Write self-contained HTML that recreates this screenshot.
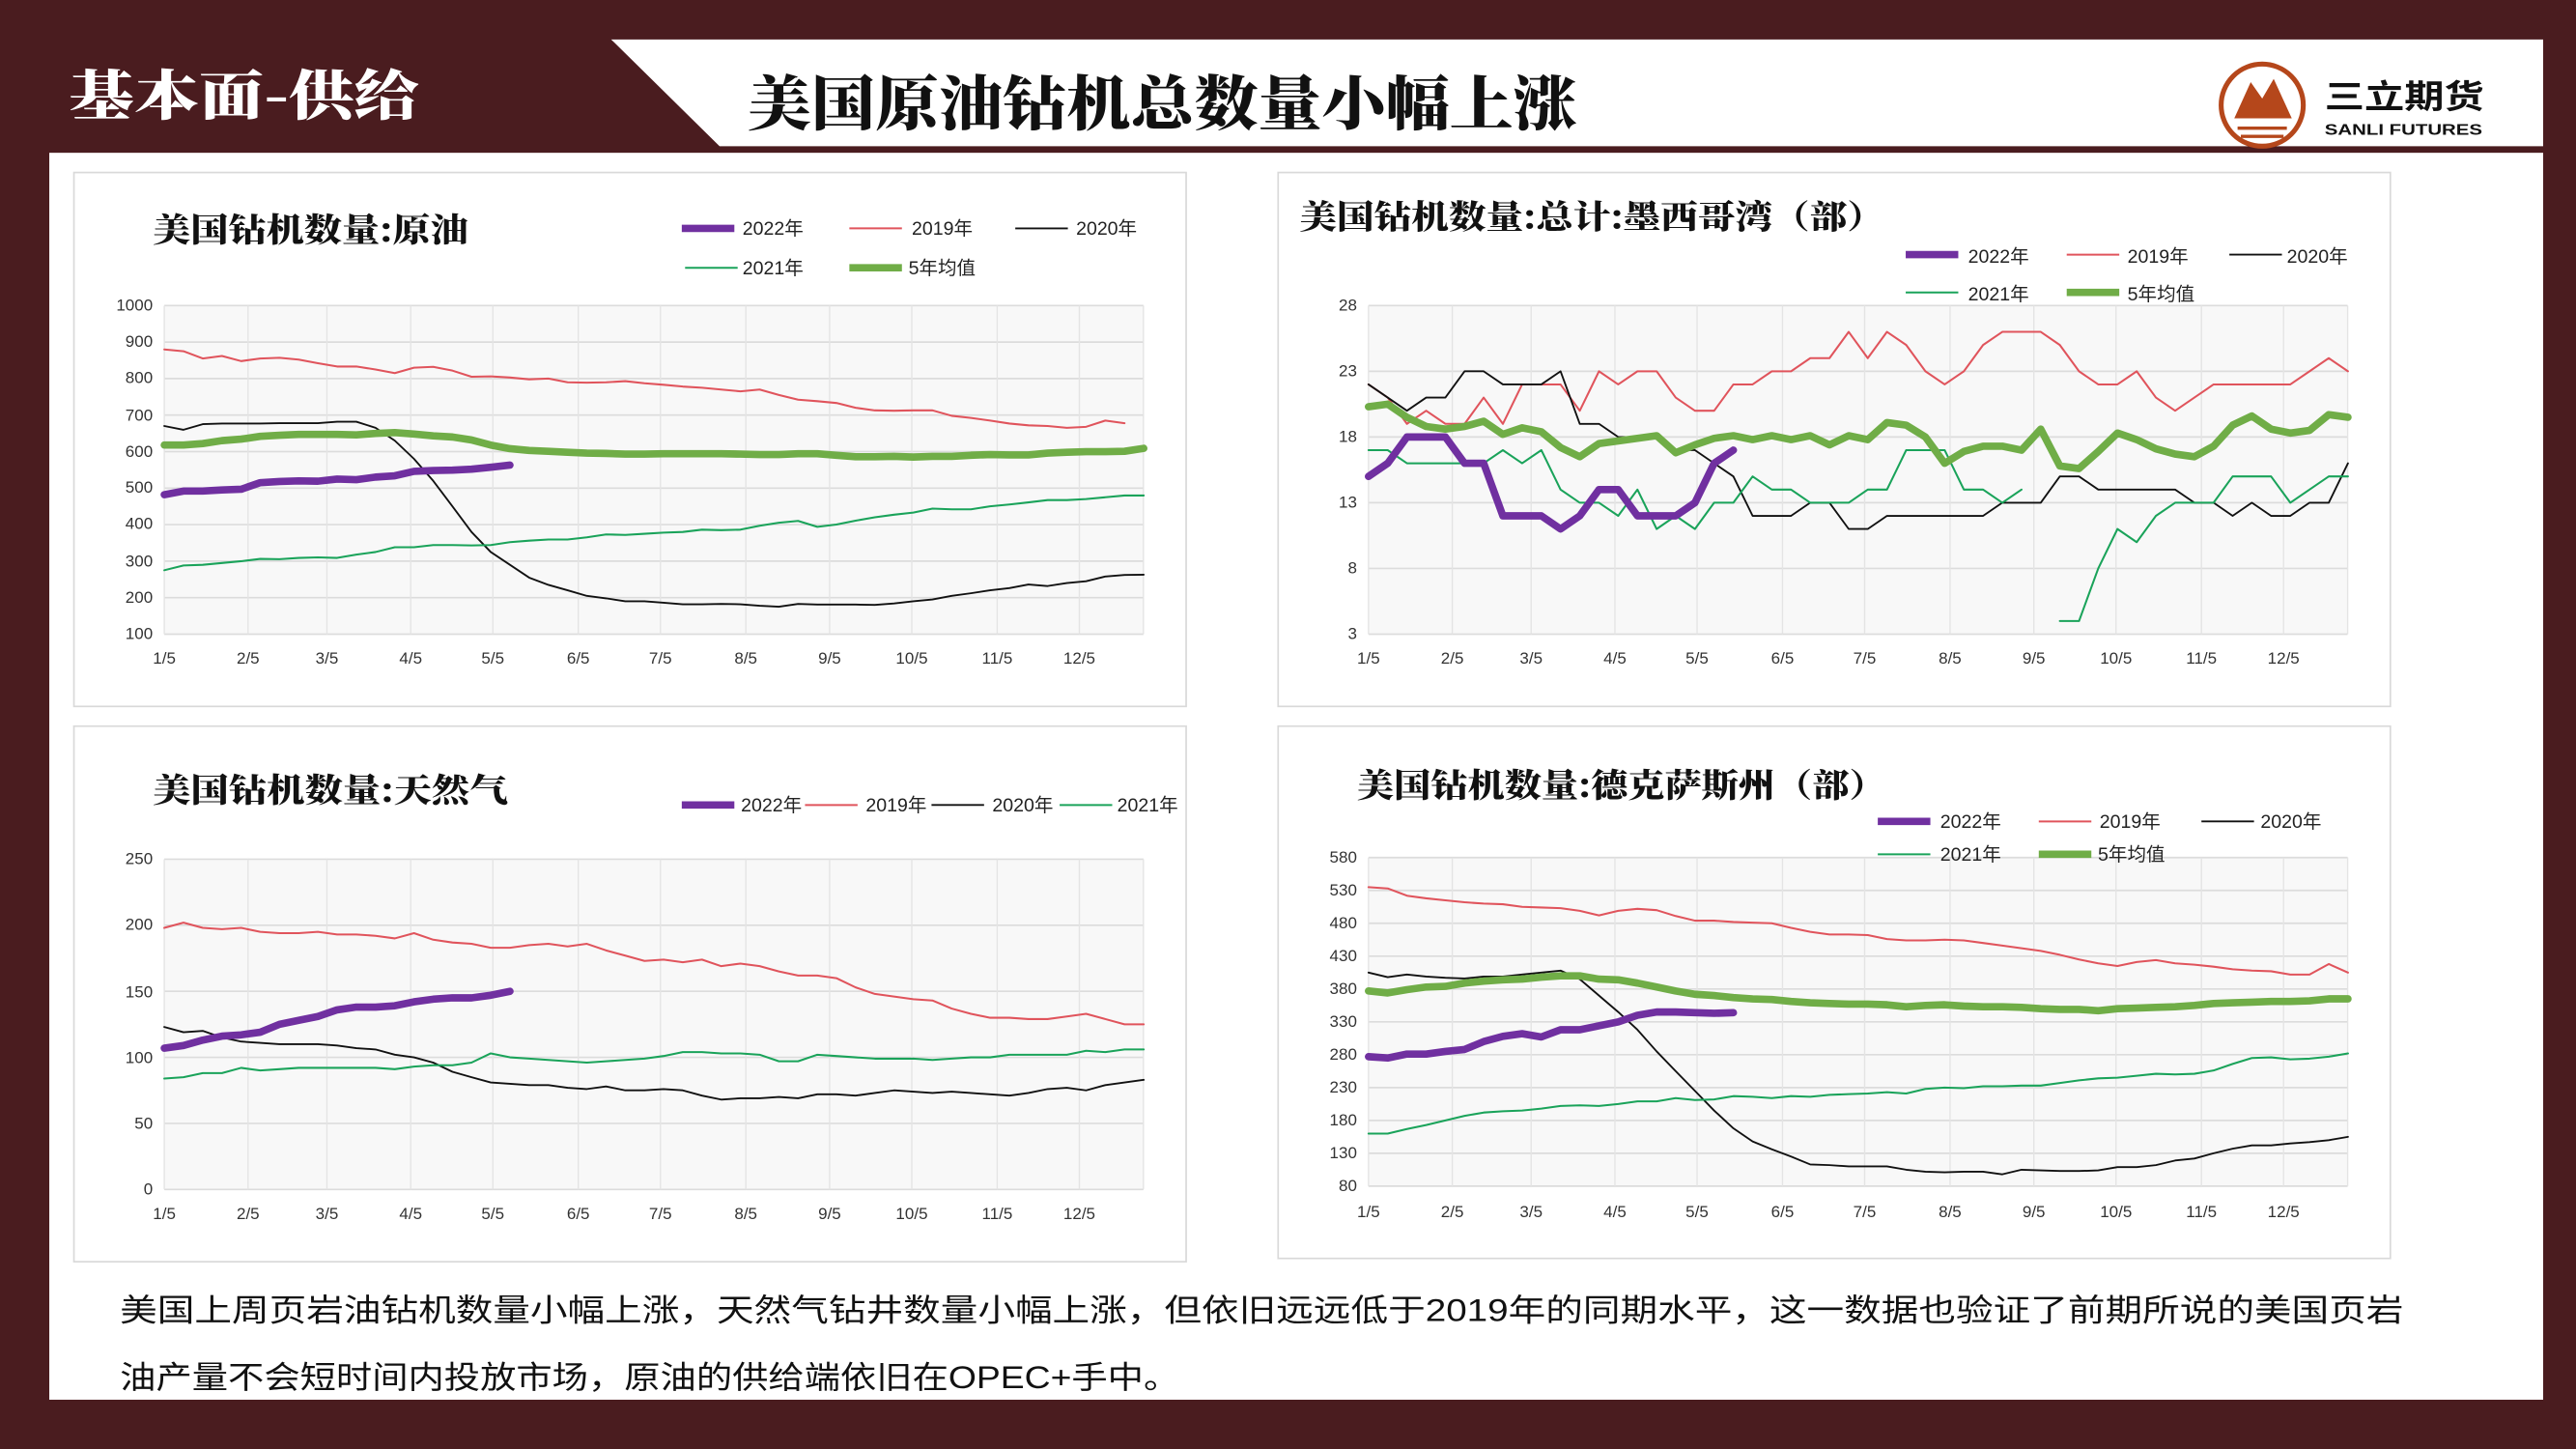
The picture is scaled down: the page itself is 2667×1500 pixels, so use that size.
<!DOCTYPE html>
<html><head><meta charset="utf-8"><style>
html,body{margin:0;padding:0;background:#4a1c1f;}
svg{display:block;}
text{font-family:"Liberation Sans","Noto Sans CJK SC",sans-serif;}
.t{font-family:"Noto Serif CJK SC","Noto Sans CJK SC",serif;font-weight:900;}
.ax{font-size:10px;fill:#333;}
.lg{font-size:11.5px;fill:#222;}
</style></head><body>
<svg id="s" width="2667" height="1500" viewBox="0 0 1568 882" preserveAspectRatio="none" xmlns="http://www.w3.org/2000/svg">
<rect x="0" y="0" width="1568" height="882" fill="#4a1c1f"/>
<rect x="30" y="93" width="1518" height="759" fill="#ffffff"/>
<polygon points="372,24 1548,24 1548,89 438,89" fill="#ffffff"/>
<text x="42" y="70" class="t" font-size="33" fill="#ffffff" textLength="213" lengthAdjust="spacingAndGlyphs">基本面-供给</text>
<text x="455" y="76" class="t" font-size="36" fill="#111" textLength="505" lengthAdjust="spacingAndGlyphs">美国原油钻机总数量小幅上涨</text>
<g>
<circle cx="1377" cy="64" r="25" fill="none" stroke="#b5471b" stroke-width="3"/>
<polygon points="1360,72 1370,50 1377,60 1384,48 1395,72" fill="#b5471b"/>
<line x1="1362" y1="78" x2="1392" y2="78" stroke="#b5471b" stroke-width="2"/>
<line x1="1364" y1="83" x2="1390" y2="83" stroke="#b5471b" stroke-width="2"/>
<text x="1415" y="66" font-size="20" font-weight="bold" fill="#111" textLength="97" lengthAdjust="spacingAndGlyphs">三立期货</text>
<text x="1415" y="82" font-size="9" font-weight="bold" fill="#111" textLength="96" lengthAdjust="spacingAndGlyphs">SANLI FUTURES</text>
</g>
<rect x="45" y="105" width="677" height="325" fill="#fff" stroke="#d9d9d9"/>
<rect x="778" y="105" width="677" height="325" fill="#fff" stroke="#d9d9d9"/>
<rect x="45" y="442" width="677" height="326" fill="#fff" stroke="#d9d9d9"/>
<rect x="778" y="442" width="677" height="324" fill="#fff" stroke="#d9d9d9"/>
<g id="plots"></g>

<text x="93" y="147" class="t" font-size="20" fill="#111" textLength="192" lengthAdjust="spacingAndGlyphs">美国钻机数量:原油</text>
<text x="452" y="143" class="lg">2022年</text><text x="555" y="143" class="lg">2019年</text><text x="655" y="143" class="lg">2020年</text>
<text x="452" y="167" class="lg">2021年</text><text x="553" y="167" class="lg">5年均值</text>
<g class="ax" text-anchor="end">
<text x="93" y="189">1000</text><text x="93" y="211">900</text><text x="93" y="233">800</text><text x="93" y="256">700</text><text x="93" y="278">600</text><text x="93" y="300">500</text><text x="93" y="322">400</text><text x="93" y="345">300</text><text x="93" y="367">200</text><text x="93" y="389">100</text>
</g>
<g class="ax" text-anchor="middle">
<text x="100" y="404">1/5</text><text x="151" y="404">2/5</text><text x="199" y="404">3/5</text><text x="250" y="404">4/5</text><text x="300" y="404">5/5</text><text x="352" y="404">6/5</text><text x="402" y="404">7/5</text><text x="454" y="404">8/5</text><text x="505" y="404">9/5</text><text x="555" y="404">10/5</text><text x="607" y="404">11/5</text><text x="657" y="404">12/5</text>
</g>

<text x="791" y="139" class="t" font-size="20" fill="#111" textLength="356" lengthAdjust="spacingAndGlyphs">美国钻机数量:总计:墨西哥湾（部）</text>
<text x="1198" y="160" class="lg">2022年</text><text x="1295" y="160" class="lg">2019年</text><text x="1392" y="160" class="lg">2020年</text>
<text x="1198" y="183" class="lg">2021年</text><text x="1295" y="183" class="lg">5年均值</text>
<g class="ax" text-anchor="end">
<text x="826" y="189">28</text><text x="826" y="229">23</text><text x="826" y="269">18</text><text x="826" y="309">13</text><text x="826" y="349">8</text><text x="826" y="389">3</text>
</g>
<g class="ax" text-anchor="middle">
<text x="833" y="404">1/5</text><text x="884" y="404">2/5</text><text x="932" y="404">3/5</text><text x="983" y="404">4/5</text><text x="1033" y="404">5/5</text><text x="1085" y="404">6/5</text><text x="1135" y="404">7/5</text><text x="1187" y="404">8/5</text><text x="1238" y="404">9/5</text><text x="1288" y="404">10/5</text><text x="1340" y="404">11/5</text><text x="1390" y="404">12/5</text>
</g>

<text x="93" y="488" class="t" font-size="20" fill="#111" textLength="216" lengthAdjust="spacingAndGlyphs">美国钻机数量:天然气</text>
<text x="451" y="494" class="lg">2022年</text><text x="527" y="494" class="lg">2019年</text><text x="604" y="494" class="lg">2020年</text><text x="680" y="494" class="lg">2021年</text>
<g class="ax" text-anchor="end">
<text x="93" y="526">250</text><text x="93" y="566">200</text><text x="93" y="607">150</text><text x="93" y="647">100</text><text x="93" y="687">50</text><text x="93" y="727">0</text>
</g>
<g class="ax" text-anchor="middle">
<text x="100" y="742">1/5</text><text x="151" y="742">2/5</text><text x="199" y="742">3/5</text><text x="250" y="742">4/5</text><text x="300" y="742">5/5</text><text x="352" y="742">6/5</text><text x="402" y="742">7/5</text><text x="454" y="742">8/5</text><text x="505" y="742">9/5</text><text x="555" y="742">10/5</text><text x="607" y="742">11/5</text><text x="657" y="742">12/5</text>
</g>

<text x="826" y="485" class="t" font-size="20" fill="#111" textLength="322" lengthAdjust="spacingAndGlyphs">美国钻机数量:德克萨斯州（部）</text>
<text x="1181" y="504" class="lg">2022年</text><text x="1278" y="504" class="lg">2019年</text><text x="1376" y="504" class="lg">2020年</text>
<text x="1181" y="524" class="lg">2021年</text><text x="1277" y="524" class="lg">5年均值</text>
<g class="ax" text-anchor="end">
<text x="826" y="525">580</text><text x="826" y="545">530</text><text x="826" y="565">480</text><text x="826" y="585">430</text><text x="826" y="605">380</text><text x="826" y="625">330</text><text x="826" y="645">280</text><text x="826" y="665">230</text><text x="826" y="685">180</text><text x="826" y="705">130</text><text x="826" y="725">80</text>
</g>
<g class="ax" text-anchor="middle">
<text x="833" y="741">1/5</text><text x="884" y="741">2/5</text><text x="932" y="741">3/5</text><text x="983" y="741">4/5</text><text x="1033" y="741">5/5</text><text x="1085" y="741">6/5</text><text x="1135" y="741">7/5</text><text x="1187" y="741">8/5</text><text x="1238" y="741">9/5</text><text x="1288" y="741">10/5</text><text x="1340" y="741">11/5</text><text x="1390" y="741">12/5</text>
</g>

<text x="73" y="804" font-size="19" fill="#111" textLength="1390" lengthAdjust="spacingAndGlyphs">美国上周页岩油钻机数量小幅上涨，天然气钻井数量小幅上涨，但依旧远远低于2019年的同期水平，这一数据也验证了前期所说的美国页岩</text>
<text x="73" y="845" font-size="19" fill="#111" textLength="645" lengthAdjust="spacingAndGlyphs">油产量不会短时间内投放市场，原油的供给端依旧在OPEC+手中。</text>
</svg>
<script>
var NS="http://www.w3.org/2000/svg",G=document.getElementById("plots");
function el(n,a){var e=document.createElementNS(NS,n);for(var k in a)e.setAttribute(k,a[k]);G.appendChild(e);return e;}
var OFF=[0,51,99,150,200,252,302,354,405,455,507,557];
var STEP=11.69;
var C={p:["#7030a0",4.5],r:["#e0545c",1.2],k:["#111",1.1],g:["#1aa35a",1.2],a:["#70ad47",4.5]};
function chart(x0,yt,yb,vmin,vmax,nh,series,legend){
 el("rect",{x:x0,y:yt,width:596,height:yb-yt,fill:"#f8f8f8"});
 for(var i=0;i<=nh;i++){var y=yt+(yb-yt)*i/nh;el("line",{x1:x0,x2:x0+596,y1:y,y2:y,stroke:"#dcdcdc","stroke-width":1});}
 OFF.concat([596]).forEach(function(o){el("line",{x1:x0+o,x2:x0+o,y1:yt,y2:yb,stroke:"#e4e4e4","stroke-width":0.8});});
 series.forEach(function(s){var pts=[],segs=[];s[1].forEach(function(v,i){if(v===null){if(pts.length)segs.push(pts);pts=[];return;}
  var x=x0+i*STEP;if(x>x0+597)return;pts.push(x.toFixed(1)+","+(yb-(v-vmin)/(vmax-vmin)*(yb-yt)).toFixed(1));});
  if(pts.length)segs.push(pts);
  segs.forEach(function(p){el("polyline",{points:p.join(" "),fill:"none",stroke:C[s[0]][0],"stroke-width":C[s[0]][1],"stroke-linejoin":"round","stroke-linecap":"round"});});});
 legend.forEach(function(l){el("line",{x1:l[1],x2:l[1]+32,y1:l[2],y2:l[2],stroke:C[l[0]][0],"stroke-width":C[l[0]][1]});});
}
chart(100,186,386,100,1000,9,[
["r",[880,875,855,862,848,855,857,852,842,833,833,825,815,830,832,822,805,806,803,798,800,790,789,790,793,787,783,778,775,770,765,770,755,742,738,733,720,713,712,713,713,698,692,685,677,672,670,665,668,685,678]],
["k",[670,660,675,677,677,677,678,678,678,682,682,665,630,580,520,450,380,325,290,255,235,220,205,198,190,190,186,182,182,183,182,178,175,183,181,181,181,180,184,190,195,205,212,220,226,236,232,240,245,258,262,263]],
["g",[275,288,290,295,300,306,305,309,310,309,318,325,338,338,344,344,343,344,352,356,359,359,365,373,372,375,378,380,386,385,386,397,405,410,394,400,411,420,427,433,444,442,442,450,455,461,467,467,470,475,480,480]],
["a",[618,618,622,630,634,642,645,647,647,647,646,650,652,648,643,640,632,618,608,603,601,598,596,595,593,593,594,594,594,594,593,592,592,594,594,590,586,586,587,585,587,587,590,592,591,591,596,598,600,600,601,609,608]],
["p",[482,492,492,495,497,515,518,520,519,525,523,530,534,546,548,549,552,557,563]]
],[["p",415,139],["r",517,139],["k",618,139],["g",417,163],["a",517,163]]);
chart(833,186,386,3,28,5,[
["r",[22,21,19,20,19,19,21,19,22,22,22,20,23,22,23,23,21,20,20,22,22,23,23,24,24,26,24,26,25,23,22,23,25,26,26,26,25,23,22,22,23,21,20,21,22,22,22,22,22,23,24,23]],
["k",[22,21,20,21,21,23,23,22,22,22,23,19,19,18,18,18,17,17,16,15,12,12,12,13,13,11,11,12,12,12,12,12,12,13,13,13,15,15,14,14,14,14,14,13,13,12,13,12,12,13,13,16,17]],
["g",[17,17,16,16,16,16,16,17,16,17,14,13,13,12,14,11,12,11,13,13,15,14,14,13,13,13,14,14,17,17,17,14,14,13,14,null,4,4,8,11,10,12,13,13,13,15,15,15,13,14,15,15]],
["a",[20.3,20.5,19.5,18.8,18.6,18.8,19.2,18.2,18.7,18.4,17.2,16.5,17.5,17.7,17.9,18.1,16.8,17.4,17.9,18.1,17.8,18.1,17.8,18.1,17.4,18.1,17.8,19.1,18.9,18.0,16.0,16.9,17.3,17.3,17.0,18.6,15.8,15.6,16.9,18.3,17.8,17.1,16.7,16.5,17.3,18.9,19.6,18.6,18.3,18.5,19.7,19.5]],
["p",[15,16,18,18,18,16,16,12,12,12,11,12,14,14,12,12,12,13,16,17]]
],[["p",1160,155],["r",1258,155],["k",1357,155],["g",1160,178],["a",1258,178]]);
chart(100,523,724,0,250,5,[
["r",[198,202,198,197,198,195,194,194,195,193,193,192,190,194,189,187,186,183,183,185,186,184,186,181,177,173,174,172,174,169,171,169,165,162,162,160,153,148,146,144,143,137,133,130,130,129,129,131,133,129,125,125]],
["k",[123,119,120,115,112,111,110,110,110,109,107,106,102,100,96,89,85,81,80,79,79,77,76,78,75,75,76,75,71,68,69,69,70,69,72,72,71,73,75,74,73,74,73,72,71,73,76,77,75,79,81,83]],
["g",[84,85,88,88,92,90,91,92,92,92,92,92,91,93,94,94,96,103,100,99,98,97,96,97,98,99,101,104,104,103,103,102,97,97,102,101,100,99,99,99,98,99,100,100,102,102,102,102,105,104,106,106]],
["p",[107,109,113,116,117,119,125,128,131,136,138,138,139,142,144,145,145,147,150]]
],[["p",415,490],["r",490,490],["k",567,490],["g",645,490]]);
chart(833,522,722,80,580,10,[
["r",[535,533,522,518,515,512,510,509,505,504,503,499,492,499,502,500,491,484,484,482,481,480,473,467,463,463,462,456,454,454,455,454,450,446,442,438,432,425,419,415,421,424,419,417,414,410,408,407,402,402,418,405]],
["k",[405,398,402,399,397,396,399,399,402,405,408,395,370,345,318,285,255,225,195,168,148,136,125,113,112,110,110,110,105,102,101,102,102,98,105,104,103,103,104,109,109,112,119,122,130,137,142,142,145,147,150,155,157,158]],
["g",[160,160,167,173,180,187,192,194,195,198,202,203,202,205,209,209,214,211,212,217,216,214,217,216,219,220,221,223,221,228,230,229,232,232,233,233,237,241,244,245,248,251,250,251,256,266,275,276,273,274,277,282]],
["a",[377,374,379,383,384,389,392,394,395,398,400,400,395,394,389,383,377,372,370,367,365,364,361,359,358,357,357,356,353,355,356,354,353,353,352,350,349,349,347,350,351,352,353,355,358,359,360,361,361,362,365,365]],
["p",[277,275,281,281,285,288,300,308,312,307,318,318,324,330,340,345,345,344,343,344]]
],[["p",1143,500],["r",1241,500],["k",1340,500],["g",1143,520],["a",1241,520]]);
</script>
</body></html>
